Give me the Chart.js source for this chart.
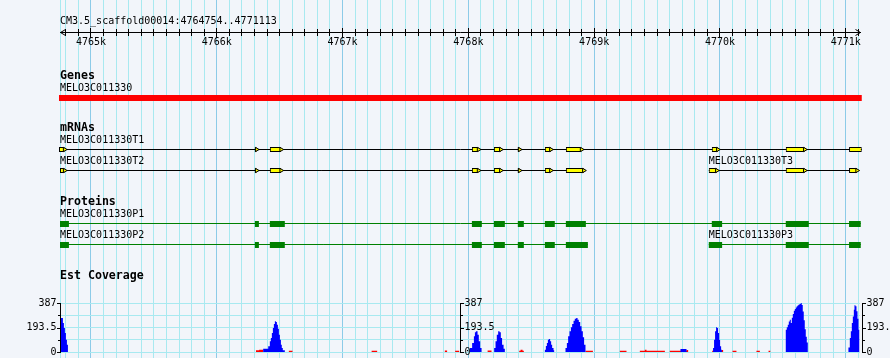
<!DOCTYPE html>
<html>
<head>
<meta charset="utf-8">
<script src="https://cdn.jsdelivr.net/npm/chart.js@4/dist/chart.umd.min.js"></script>
<style>
  html, body { margin: 0; padding: 0; background: #f2f5fa; }
  canvas { display: block; }
</style>
</head>
<body>
<canvas id="c" width="890" height="358"></canvas>
<script>
// ---------------- DATA ----------------
const refName = 'CM3.5_scaffold00014';
const viewStart = 4764754;
const viewEnd = 4771113;

const rulerMajorTicks = [4765000, 4766000, 4767000, 4768000, 4769000, 4770000, 4771000];
const rulerLabels = ['4765k', '4766k', '4767k', '4768k', '4769k', '4770k', '4771k'];

const trackTitles = ['Genes', 'mRNAs', 'Proteins', 'Est Coverage'];

const geneNames = ['MELO3C011330'];
const geneSpans = [[4764746, 4771127]];

const mrnaNames = ['MELO3C011330T1', 'MELO3C011330T2', 'MELO3C011330T3'];
const mrnaSpans = [[4764746, 4771127], [4764754, 4768918], [4769911, 4771090]];
const mrnaT1Exons = [[4764746, 4764791], [4766303, 4766317], [4766422, 4766512], [4768028, 4768081],
  [4768203, 4768258], [4768393, 4768407], [4768608, 4768656], [4768775, 4768900],
  [4769935, 4769983], [4770523, 4770674], [4771026, 4771127]];
const mrnaT2Exons = [[4764754, 4764791], [4766303, 4766317], [4766422, 4766512], [4768028, 4768081],
  [4768203, 4768258], [4768393, 4768407], [4768608, 4768656], [4768775, 4768918]];
const mrnaT3Exons = [[4769911, 4769975], [4770523, 4770674], [4771026, 4771090]];

const proteinNames = ['MELO3C011330P1', 'MELO3C011330P2', 'MELO3C011330P3'];
const proteinSpans = [[4764754, 4771119], [4764754, 4768950], [4769911, 4771119]];
const cdsP1 = [[4764754, 4764825], [4766303, 4766335], [4766422, 4766541], [4768028, 4768107],
  [4768203, 4768290], [4768393, 4768441], [4768608, 4768687], [4768775, 4768934],
  [4769935, 4770017], [4770523, 4770706], [4771026, 4771119]];
const cdsP2 = [[4764754, 4764825], [4766303, 4766335], [4766422, 4766541], [4768028, 4768107],
  [4768203, 4768290], [4768393, 4768441], [4768608, 4768687], [4768775, 4768950]];
const cdsP3 = [[4769911, 4770017], [4770523, 4770706], [4771026, 4771119]];

const covTicks = [0, 96.75, 193.5, 290.25, 387];
const covTickLabels = ['0', '', '193.5', '', '387'];

// coverage bins: [bin start (bp), depth]
const estCoverageBlue = [
  [4764754, 268], [4764777, 229], [4764785, 190], [4764793, 150], [4764801, 97], [4764809, 58], [4764817, 0],
  [4766369, 26], [4766409, 45], [4766422, 84], [4766430, 110], [4766438, 150], [4766446, 190], [4766454, 221],
  [4766462, 242], [4766470, 237], [4766478, 216], [4766486, 184], [4766494, 137], [4766502, 97], [4766510, 58],
  [4766517, 31], [4766525, 13], [4766541, 0],
  [4768012, 31], [4768030, 71], [4768044, 124], [4768052, 155], [4768060, 163], [4768073, 137], [4768083, 84],
  [4768094, 31], [4768105, 0],
  [4768205, 31], [4768216, 84], [4768226, 137], [4768237, 163], [4768248, 155], [4768258, 110], [4768268, 58],
  [4768280, 26], [4768290, 0],
  [4768608, 18], [4768616, 47], [4768624, 71], [4768632, 97], [4768640, 103], [4768650, 84], [4768658, 58],
  [4768666, 31], [4768677, 13], [4768682, 0],
  [4768772, 31], [4768783, 71], [4768793, 124], [4768804, 163], [4768815, 195], [4768825, 221], [4768836, 247],
  [4768846, 263], [4768857, 268], [4768868, 255], [4768878, 237], [4768889, 203], [4768900, 163], [4768910, 116],
  [4768920, 58], [4768931, 0],
  [4769686, 24], [4769734, 0],
  [4769945, 31], [4769953, 97], [4769961, 163], [4769969, 195], [4769977, 190], [4769985, 150], [4769993, 97],
  [4770001, 45], [4770009, 18], [4770015, 0],
  [4770523, 175], [4770531, 195], [4770539, 215], [4770547, 240], [4770555, 255], [4770563, 230], [4770571, 270],
  [4770579, 300], [4770587, 325], [4770595, 340], [4770603, 352], [4770610, 362], [4770618, 370], [4770626, 375],
  [4770634, 380], [4770642, 387], [4770650, 372], [4770658, 320], [4770666, 250], [4770674, 180], [4770682, 120],
  [4770690, 75], [4770698, 0],
  [4771021, 35], [4771032, 110], [4771040, 163], [4771048, 229], [4771056, 281], [4771064, 334], [4771069, 369],
  [4771077, 361], [4771085, 321], [4771093, 263], [4771101, 176], [4771109, 0]
];
const estCoverageRed = [
  [4766311, 13], [4766337, 18], [4766369, 0], [4766573, 10], [4766602, 0],
  [4767231, 10], [4767275, 0], [4767813, 12], [4767831, 0], [4767895, 10], [4767927, 0],
  [4768153, 12], [4768184, 0],
  [4768404, 10], [4768415, 18], [4768431, 10], [4768441, 0],
  [4768931, 10], [4768990, 0],
  [4769204, 10], [4769257, 0],
  [4769363, 10], [4769403, 18], [4769416, 10], [4769562, 0],
  [4769601, 10], [4769734, 15], [4769747, 0],
  [4769938, 10], [4770015, 15], [4770025, 0],
  [4770100, 10], [4770131, 0], [4770290, 10], [4770317, 0], [4770386, 10], [4770402, 0]
];

// ---------------- LAYOUT / STYLE ----------------
const ROWS = {
  rulerTitle: 21, rulerLine: 32,
  genesTitle: 76, geneLabel: 88, gene: 98,
  mrnaTitle: 128, mrna1Label: 140, mrna1: 149.5, mrna2Label: 161.5, mrna2: 170.5,
  protTitle: 202, prot1Label: 214.5, prot1: 223.5, prot2Label: 235.5, prot2: 244.5,
  covTitle: 276
};
const TRACK_PANEL = 303, COV_PANEL = 49, BOTTOM_PAD = 6;
const covAxisPositions = [viewStart, 4767937, 4771131];
const MONO = "'DejaVu Sans Mono', 'Liberation Mono', monospace";
const FONT_SMALL = "10px " + MONO;
const FONT_TITLE = "bold 11.6px " + MONO;
const BG = '#f2f5fa';
const GRID_MINOR = '#a8e9f0';
const GRID_MAJOR = '#8ccbe8';

// ---------------- BUILD ----------------
const gridTickValues = [];
for (let v = Math.ceil(viewStart / 100) * 100; v < viewEnd; v += 100) gridTickValues.push(v);

function boxSet(label, spans, row, color, thickness, border, order) {
  return {
    type: 'bar', label, indexAxis: 'y', xAxisID: 'x', yAxisID: 'yTracks', grouped: false, clip: false,
    data: spans.map(([s, e]) => ({x: [s, e], y: row})),
    backgroundColor: color, borderColor: border || color, borderWidth: border ? 1 : 0,
    borderSkipped: false, barThickness: thickness, inflateAmount: 0, order
  };
}
function lineSet(label, span, row, color, order) {
  return {
    type: 'line', label, xAxisID: 'x', yAxisID: 'yTracks', clip: false,
    data: [{x: span[0], y: row}, {x: span[1], y: row}],
    borderColor: color, borderWidth: 1, pointRadius: 0, fill: false, order
  };
}
function tipPoints(exons, row) {
  return exons.filter(([s, e]) => e <= viewEnd).map(([s, e]) => ({x: e, y: row}));
}

const datasets = [
  {
    type: 'line', label: 'tips', xAxisID: 'x', yAxisID: 'yTracks', clip: false, showLine: false,
    data: [...tipPoints(mrnaT1Exons, ROWS.mrna1), ...tipPoints(mrnaT2Exons, ROWS.mrna2), ...tipPoints(mrnaT3Exons, ROWS.mrna2)],
    pointStyle: 'triangle', rotation: 90, pointRadius: 2.5, pointBorderWidth: 1,
    pointBackgroundColor: '#ffff00', pointBorderColor: '#000000', order: 0
  },
  boxSet('T1 exons', mrnaT1Exons, ROWS.mrna1, '#ffff00', 5, '#000000', 1),
  boxSet('T2 exons', mrnaT2Exons, ROWS.mrna2, '#ffff00', 5, '#000000', 1),
  boxSet('T3 exons', mrnaT3Exons, ROWS.mrna2, '#ffff00', 5, '#000000', 1),
  boxSet('P1 cds', cdsP1, ROWS.prot1 + 0.5, '#008000', 6, null, 1),
  boxSet('P2 cds', cdsP2, ROWS.prot2 + 0.5, '#008000', 6, null, 1),
  boxSet('P3 cds', cdsP3, ROWS.prot2 + 0.5, '#008000', 6, null, 1),
  boxSet('gene', geneSpans, ROWS.gene, '#ff0000', 6, null, 1),
  lineSet('T1', mrnaSpans[0], ROWS.mrna1, '#000000', 2),
  lineSet('T2', mrnaSpans[1], ROWS.mrna2, '#000000', 2),
  lineSet('T3', mrnaSpans[2], ROWS.mrna2, '#000000', 2),
  lineSet('P1', proteinSpans[0], ROWS.prot1, '#008000', 2),
  lineSet('P2', proteinSpans[1], ROWS.prot2, '#008000', 2),
  lineSet('P3', proteinSpans[2], ROWS.prot2, '#008000', 2),
  {
    type: 'line', label: 'Est coverage', xAxisID: 'x', yAxisID: 'yCov',
    data: estCoverageBlue.map(([x, y]) => ({x, y})), stepped: 'before', fill: 'origin',
    backgroundColor: '#0000ff', borderColor: 'rgba(0,0,0,0)', borderWidth: 0, pointRadius: 0, order: 5
  },
  {
    type: 'line', label: 'Est coverage (other)', xAxisID: 'x', yAxisID: 'yCov',
    data: estCoverageRed.map(([x, y]) => ({x, y})), stepped: 'before', fill: 'origin',
    backgroundColor: '#ff0000', borderColor: 'rgba(0,0,0,0)', borderWidth: 0, pointRadius: 0, order: 6
  }
];

const bgPlugin = {
  id: 'bg',
  beforeDraw(chart) {
    const c = chart.ctx;
    c.save(); c.fillStyle = BG; c.fillRect(0, 0, chart.width, chart.height); c.restore();
  }
};

const annotPlugin = {
  id: 'annot',
  afterDraw(chart) {
    const {ctx} = chart;
    const x = chart.scales.x, yt = chart.scales.yTracks, yc = chart.scales.yCov;
    ctx.save();
    ctx.fillStyle = '#000'; ctx.strokeStyle = '#000'; ctx.lineWidth = 1;
    ctx.textBaseline = 'middle'; ctx.textAlign = 'left';
    ctx.font = FONT_SMALL;
    ctx.fillText(refName + ':' + viewStart + '..' + viewEnd, x.left, yt.getPixelForValue(ROWS.rulerTitle));
    // ruler end arrows
    const ry = Math.round(yt.getPixelForValue(ROWS.rulerLine)) + 0.5;
    ctx.beginPath();
    ctx.moveTo(x.left + 5.5, ry - 3); ctx.lineTo(x.left + 0.5, ry); ctx.lineTo(x.left + 5.5, ry + 3);
    ctx.moveTo(x.right - 4.5, ry - 3); ctx.lineTo(x.right + 0.5, ry); ctx.lineTo(x.right - 4.5, ry + 3);
    ctx.stroke();
    // track titles
    ctx.font = FONT_TITLE;
    [ROWS.genesTitle, ROWS.mrnaTitle, ROWS.protTitle, ROWS.covTitle].forEach((r, i) => {
      ctx.fillText(trackTitles[i], x.left, yt.getPixelForValue(r));
    });
    // feature labels
    ctx.font = FONT_SMALL;
    const lab = (name, span, row) => {
      const px = Math.max(x.getPixelForValue(span[0]), x.left);
      ctx.fillText(name, px, yt.getPixelForValue(row));
    };
    lab(geneNames[0], geneSpans[0], ROWS.geneLabel);
    lab(mrnaNames[0], mrnaSpans[0], ROWS.mrna1Label);
    lab(mrnaNames[1], mrnaSpans[1], ROWS.mrna2Label);
    lab(mrnaNames[2], mrnaSpans[2], ROWS.mrna2Label);
    lab(proteinNames[0], proteinSpans[0], ROWS.prot1Label);
    lab(proteinNames[1], proteinSpans[1], ROWS.prot2Label);
    lab(proteinNames[2], proteinSpans[2], ROWS.prot2Label);
    // coverage axes
    const yTop = Math.round(yc.getPixelForValue(covTicks[covTicks.length - 1]));
    const yBot = Math.round(yc.getPixelForValue(covTicks[0]));
    covAxisPositions.forEach((pos, k) => {
      const ax = Math.round(x.getPixelForValue(pos)) + 0.5;
      const dir = k === 0 ? -1 : 1;
      ctx.beginPath();
      ctx.moveTo(ax, yTop); ctx.lineTo(ax, yBot + 1);
      covTicks.forEach((t, i) => {
        const ty = Math.round(yc.getPixelForValue(t)) + 0.5;
        const len = covTickLabels[i] ? 3 : 2;
        ctx.moveTo(ax, ty); ctx.lineTo(ax + dir * (len + 0.5), ty);
      });
      ctx.stroke();
      ctx.textAlign = k === 0 ? 'right' : 'left';
      covTicks.forEach((t, i) => {
        if (covTickLabels[i]) ctx.fillText(covTickLabels[i], ax + dir * 4, yc.getPixelForValue(t));
      });
    });
    ctx.restore();
  }
};

const rulerBase = {
  type: 'linear', min: viewStart, max: viewEnd, offset: false, beginAtZero: false
};

new Chart(document.getElementById('c'), {
  type: 'line',
  data: {datasets},
  plugins: [bgPlugin, annotPlugin],
  options: {
    responsive: false, animation: false, devicePixelRatio: 1, events: [],
    layout: {autoPadding: false, padding: {left: 60, right: 30, top: 0, bottom: 0}},
    plugins: {legend: {display: false}, tooltip: {enabled: false}, title: {display: false}},
    font: {family: MONO, size: 10},
    scales: {
      x: {
        ...rulerBase, position: 'bottom', stacked: false,
        afterBuildTicks: s => { s.ticks = [viewStart, ...gridTickValues].map(v => ({value: v})); },
        grid: {
          offset: false, drawTicks: false, lineWidth: 1,
          color: c => (c.tick && c.tick.value % 1000 === 0) ? GRID_MAJOR : GRID_MINOR
        },
        border: {display: false}, ticks: {display: false}
      },
      xRuler: {
        ...rulerBase, position: {yTracks: ROWS.rulerLine},
        afterBuildTicks: s => { s.ticks = gridTickValues.map(v => ({value: v})); },
        grid: {offset: false, drawOnChartArea: false, drawTicks: true, tickLength: 3, color: '#000', lineWidth: 1},
        border: {display: true, color: '#000', width: 1},
        ticks: {
          autoSkip: false, maxRotation: 0, minRotation: 0, padding: 1, color: '#000',
          font: {family: MONO, size: 10},
          callback: v => { const i = rulerMajorTicks.indexOf(v); return i >= 0 ? rulerLabels[i] : ''; }
        }
      },
      xRulerUp: {
        ...rulerBase, position: {yTracks: ROWS.rulerLine - 3},
        afterBuildTicks: s => { s.ticks = gridTickValues.map(v => ({value: v})); },
        grid: {offset: false, drawOnChartArea: false, drawTicks: true, tickLength: 3, color: '#000', lineWidth: 1},
        border: {display: false}, ticks: {display: false}
      },
      xRulerMajor: {
        ...rulerBase, position: {yTracks: ROWS.rulerLine - 4.5},
        afterBuildTicks: s => { s.ticks = rulerMajorTicks.map(v => ({value: v})); },
        grid: {offset: false, drawOnChartArea: false, drawTicks: true, tickLength: 10, color: '#000', lineWidth: 1},
        border: {display: false}, ticks: {display: false}
      },
      yTracks: {
        type: 'linear', position: 'right', stack: 'panel', stackWeight: TRACK_PANEL,
        min: 0, max: TRACK_PANEL, reverse: true, offset: false, beginAtZero: false,
        display: false, grid: {offset: false}
      },
      yCov: {
        type: 'linear', position: 'right', stack: 'panel', stackWeight: COV_PANEL,
        min: covTicks[0], max: covTicks[covTicks.length - 1], offset: false,
        afterBuildTicks: s => { s.ticks = covTicks.map(v => ({value: v})); },
        grid: {offset: false, drawTicks: false, lineWidth: 1, color: GRID_MINOR},
        border: {display: false}, ticks: {display: false}
      },
      yPad: {
        type: 'linear', position: 'right', stack: 'panel', stackWeight: BOTTOM_PAD,
        min: 0, max: 1, display: false
      }
    }
  }
});
</script>
</body>
</html>
